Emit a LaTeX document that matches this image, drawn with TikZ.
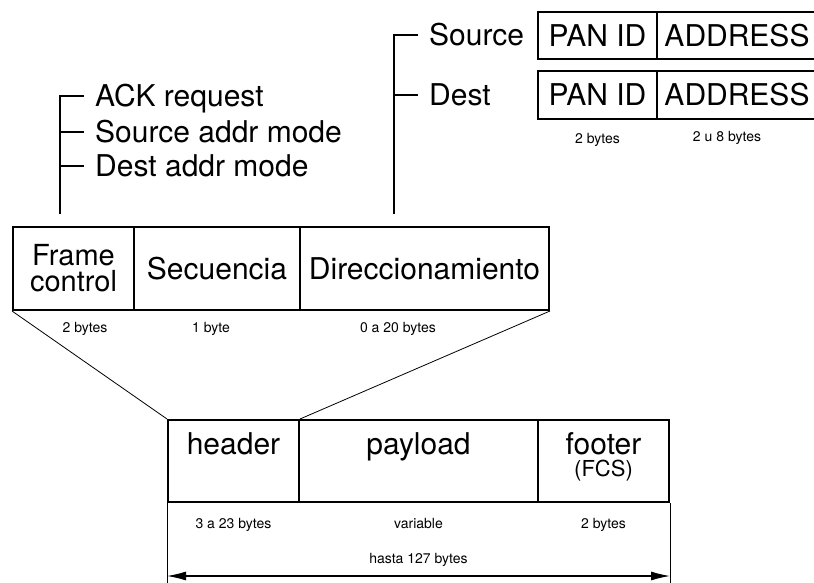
\documentclass[tikz,border=0pt]{standalone}
\usepackage{fontspec}
\setmainfont{TeX Gyre Heros}
\usetikzlibrary{arrows.meta,calc}

\begin{document}
\begin{tikzpicture}[x=1pt,y=-1pt,
    big/.style={font=\fontsize{30}{24}\selectfont},
    small/.style={font=\fontsize{14}{16}\selectfont, inner sep=0pt,
      text height=10pt, text depth=0pt},
    field/.style 2 args={draw, line width=2pt, inner sep=0pt, anchor=north west,
      minimum width=#1, minimum height=#2},
    tree/.style={big, inner sep=0pt, anchor=west, text height=21pt, text depth=0pt},
    branch/.style={line width=1.2pt},
    thinline/.style={line width=0.8pt},
    >={Latex[length=19pt,width=9pt]}]
    \useasboundingbox (0,0) rectangle (814,583);

    \node[field={121}{83}, font=\fontsize{29}{26}\selectfont, align=center] (fc) at (12,226) {Frame\\control};
    \node[field={166}{83}, big] (seq) at (133,226) {Secuencia};
    \node[field={249}{83}, big] (dir) at (299,226) {Direccionamiento};
    \node[small] at (85,327) {2 bytes};
    \node[small] at (211,327) {1 byte};
    \node[small] at (398,327) {0 a 20 bytes};

    \node[field={119}{47}, big] (span) at (537,11) {PAN ID};
    \node[field={160}{47}, big] (sadr) at (656,11) {ADDRESS};
    \node[field={119}{48}, big] (dpan) at (537,70) {PAN ID};
    \node[field={160}{48}, big] (dadr) at (656,70) {ADDRESS};
    \node[small] at ($(dpan.south)+(0,19)$) {2 bytes};
    \node[small] at (727,137) {2 u 8 bytes};

    \coordinate (dirtop) at (394,214);
    \node[tree] (src) at (429,35) {Source};
    \node[tree] (dst) at (429,95) {Dest};
    \draw[branch] (dirtop) |- ([xshift=-11pt]src.west);
    \draw[branch] (dirtop |- dst.west) -- ([xshift=-11pt]dst.west);

    \coordinate (fctop) at (60,214);
    \node[tree] (ack) at (95,96) {ACK request};
    \node[tree] (sam) at (95,132) {Source addr mode};
    \node[tree] (dam) at (95,166) {Dest addr mode};
    \draw[branch] (fctop) |- ([xshift=-11pt]ack.west);
    \foreach \n in {sam,dam}
      \draw[branch] (fctop |- \n.west) -- ([xshift=-11pt]\n.west);

    \node[field={131}{82}] (hdr) at (167,419) {};
    \node[field={239}{82}] (pay) at (298,419) {};
    \node[field={131}{82}] (ftr) at (537,419) {};
    \node[big, anchor=base] at ($(hdr.north)+(0,35)$) {header};
    \node[big, anchor=base] at ($(pay.north)+(0,35)$) {payload};
    \node[big, anchor=base] at ($(ftr.north)+(0,35)$) {footer};
    \node[font=\fontsize{22}{24}\selectfont, anchor=base] at ($(ftr.north)+(0,57)$) {(FCS)};
    \node[small] at ($(hdr.south)+(0,20)$) {3 a 23 bytes};
    \node[small] at ($(pay.south)+(0,20)$) {variable};
    \node[small] at ($(ftr.south)+(0,20)$) {2 bytes};

    \draw[thinline] (fc.south west) -- (hdr.north west);
    \draw[thinline] (dir.south east) -- (hdr.north east);

    \draw[thinline] (hdr.south west) -- ++(0,85);
    \draw[thinline] (ftr.south east) -- ++(0,85);
    \draw[branch,<->] ($(hdr.south west)+(0,73)$) -- ($(ftr.south east)+(0,73)$);
    \node[small] at ($(pay.south)+(0,55)$) {hasta 127 bytes};
\end{tikzpicture}
\end{document}
